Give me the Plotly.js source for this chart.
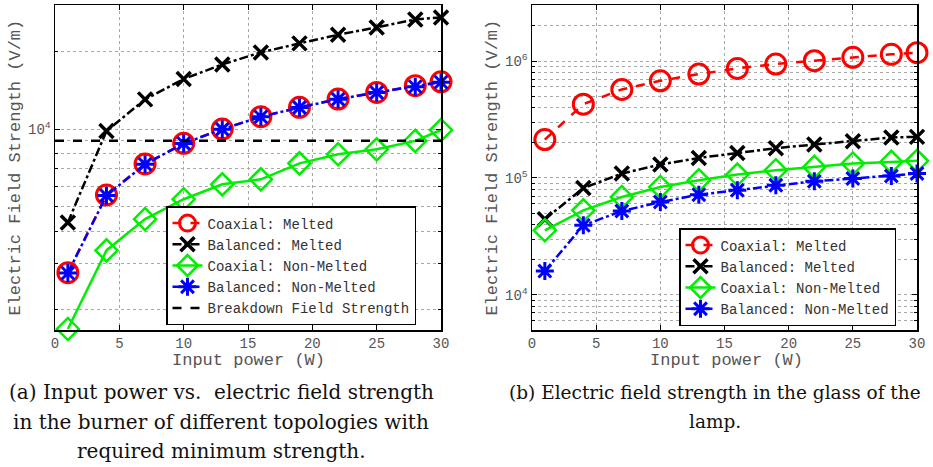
<!DOCTYPE html>
<html>
<head>
<meta charset="utf-8">
<script src="https://cdn.plot.ly/plotly-3.0.1.min.js"></script>
<style>
  html, body { margin: 0; padding: 0; background: #fff; }
  #chart { width: 933px; height: 467px; }
</style>
</head>
<body>
<div id="chart"></div>
<script>
// Input power steps (W)
const power = [1, 4, 7, 10, 13, 16, 19, 22, 25, 28, 30];

// (a) Field strength in the burner (V/m)
const burnerCoaxMelted   = [2770, 5550, 7320, 8800, 10000, 11160, 12140, 13070, 13870, 14720, 15250];
const burnerBalMelted    = [4340, 9820, 13030, 15630, 17810, 19820, 21490, 23210, 24790, 26620, 27100];
const burnerCoaxNonMelt  = [1675, 3380, 4470, 5340, 6100, 6380, 7360, 7980, 8340, 8990, 9910];
const burnerBalNonMelt   = [2760, 5520, 7300, 8790, 9980, 11150, 12120, 13050, 13850, 14600, 15200];
const breakdownField = 9000;

// (b) Field strength in the lamp glass (V/m)
const glassCoaxMelted   = [213000, 428000, 572000, 678000, 774000, 865000, 943000, 1007000, 1076000, 1141000, 1179000];
const glassBalMelted    = [44300, 82000, 108900, 130200, 148300, 163700, 179800, 193200, 206300, 221900, 224600];
const glassCoaxNonMelt  = [35650, 52800, 68700, 83700, 95500, 106900, 116400, 124200, 132800, 137200, 140000];
const glassBalNonMelt   = [15970, 39300, 52100, 62200, 71900, 78500, 86500, 93700, 98800, 104000, 109100];

const seriesNames = ['Coaxial: Melted', 'Balanced: Melted', 'Coaxial: Non-Melted', 'Balanced: Non-Melted'];
const breakdownName = 'Breakdown Field Strength';

const xTicks = [0, 5, 10, 15, 20, 25, 30];
const powerRange = [0, 30];
const xTitle = 'Input power (W)';
const yTitle = 'Electric Field Strength (V/m)';

// sub-figure captions, one entry per line
const captionA = ['(a) Input power vs.  electric field strength', 'in the burner of different topologies with', 'required minimum strength.'];
const captionB = ['(b) Electric field strength in the glass of the', 'lamp.'];

const mono = 'Liberation Mono, Courier New, monospace';
const serif = 'DejaVu Serif, serif';

// minor log grid: 2..9 within each decade
function minorVals(lo, hi) {
  const out = [];
  for (let e = lo; e <= hi; e++) {
    for (let m = 2; m <= 9; m++) out.push(m * Math.pow(10, e));
  }
  return out;
}

const styles = [
  { color: '#ff0000', dash: 'dash',    symbol: 'circle-open',   size: 20, lw: 3 },
  { color: '#000000', dash: 'dashdot', symbol: 'x-thin-open',   size: 14, lw: 3.5 },
  { color: '#00ee00', dash: 'solid',   symbol: 'diamond-open',  size: 17, lw: 2.5 },
  { color: '#0000ff', dash: 'dashdot', symbol: 'asterisk-open', size: 15, lw: 3 }
];

function mk(y, i, xa, ya, leg) {
  const s = styles[i];
  return {
    x: power, y: y, name: seriesNames[i], type: 'scatter', mode: 'lines+markers',
    xaxis: xa, yaxis: ya, legend: leg, cliponaxis: false,
    line: { color: s.color, dash: s.dash, width: 2.5 },
    marker: { symbol: s.symbol, size: s.size, color: s.color, line: { color: s.color, width: s.lw } }
  };
}

const traces = [
  mk(burnerCoaxMelted, 0, 'x', 'y', 'legend'),
  mk(burnerBalMelted, 1, 'x', 'y', 'legend'),
  mk(burnerCoaxNonMelt, 2, 'x', 'y', 'legend'),
  mk(burnerBalNonMelt, 3, 'x', 'y', 'legend'),
  {
    x: powerRange, y: [breakdownField, breakdownField], name: breakdownName,
    type: 'scatter', mode: 'lines', xaxis: 'x', yaxis: 'y', legend: 'legend',
    line: { color: '#000', dash: 'dash', width: 2.5 }
  },
  mk(glassCoaxMelted, 0, 'x2', 'y2', 'legend2'),
  mk(glassBalMelted, 1, 'x2', 'y2', 'legend2'),
  mk(glassCoaxNonMelt, 2, 'x2', 'y2', 'legend2'),
  mk(glassBalNonMelt, 3, 'x2', 'y2', 'legend2')
];

const W = 933, H = 467;
const px = v => v / W;
const py = v => 1 - v / H;

const gridCommon = {
  showgrid: true, gridcolor: '#a8a8a8', gridwidth: 1, griddash: 'dot',
  showline: true, linecolor: '#000', linewidth: 1.5, mirror: 'ticks',
  ticks: 'inside', ticklen: 5, tickcolor: '#000', tickwidth: 1,
  zeroline: false,
  tickfont: { family: mono, size: 14, color: '#555' }
};

function xAxis(domain, anchor) {
  return Object.assign({}, gridCommon, {
    domain: domain, anchor: anchor, range: powerRange,
    tickmode: 'array', tickvals: xTicks, ticktext: xTicks.map(String)
  });
}

function yAxis(domain, anchor, range, major, minorLo, minorHi) {
  return Object.assign({}, gridCommon, {
    domain: domain, anchor: anchor, type: 'log', range: range,
    tickmode: 'array', tickvals: major,
    ticktext: major.map(v => '10<sup>' + Math.round(Math.log10(v)) + '</sup>'),
    minor: { tickmode: 'array', tickvals: minorVals(minorLo, minorHi), showgrid: true,
             gridcolor: '#a8a8a8', griddash: 'dot', gridwidth: 1,
             ticks: 'inside', ticklen: 3, tickcolor: '#000' },
    title: { text: yTitle, font: { family: mono, size: 17, color: '#555' }, standoff: 3 }
  });
}

const yDom = [py(330), py(5.3)];

const legendCommon = {
  bgcolor: '#fff', bordercolor: '#000', borderwidth: 1.5,
  font: { family: mono, size: 14, color: '#333' },
  xanchor: 'left', yanchor: 'bottom', tracegroupgap: 0, itemsizing: 'trace'
};

function textAt(text, xPix, yPix, font) {
  return {
    xref: 'paper', yref: 'paper', x: px(xPix), y: py(yPix),
    xanchor: 'center', yanchor: 'middle', showarrow: false,
    text: text, font: font
  };
}

const capFont = { family: serif, size: 20, color: '#111' };
const axFont = { family: mono, size: 17, color: '#555' };
const capRows = [392, 421.5, 451];

const annotations = [
  textAt(xTitle, 248, 360, axFont),
  textAt(xTitle, 726, 360, axFont)
];
captionA.forEach((t, i) => annotations.push(textAt(t, 221, capRows[i], capFont)));
captionB.forEach((t, i) => annotations.push(textAt(t, 715, capRows[i], Object.assign({}, capFont, { size: 18.5 }))));

const layout = {
  width: W, height: H,
  margin: { l: 0, r: 0, t: 0, b: 0 },
  paper_bgcolor: '#fff', plot_bgcolor: '#fff',
  showlegend: true,
  xaxis: xAxis([px(55), px(441)], 'y'),
  yaxis: yAxis(yDom, 'x', [Math.log10(1660), Math.log10(30200)], [1e4], 3, 4),
  xaxis2: xAxis([px(532), px(917)], 'y2'),
  yaxis2: yAxis(yDom, 'x2', [Math.log10(5000), Math.log10(3.0e6)], [1e4, 1e5, 1e6], 3, 6),
  legend: Object.assign({}, legendCommon, { x: px(166), y: py(325) }),
  legend2: Object.assign({}, legendCommon, { x: px(679), y: py(326) }),
  annotations: annotations
};

Plotly.newPlot('chart', traces, layout, { displayModeBar: false, staticPlot: true });
</script>
</body>
</html>
